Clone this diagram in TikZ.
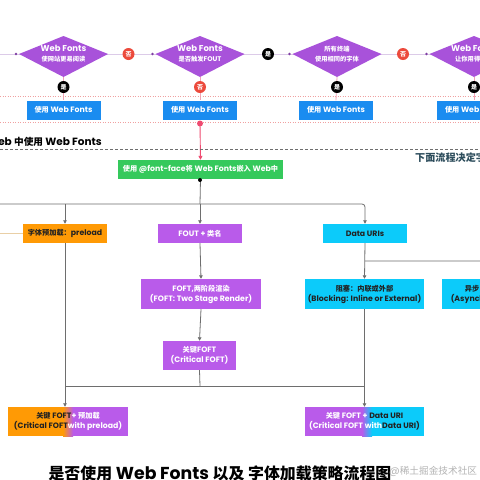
\documentclass[tikz,border=0pt]{standalone}
\usepackage{fontspec}
\setmainfont{Poppins}
\newfontfamily\latf{Poppins}
\newfontfamily\cjkf{Noto Sans CJK SC}[Scale=0.92]
\newXeTeXintercharclass\mycjkclass
\makeatletter
\def\setcjkrange#1#2{\count@=#1\relax
  \loop\XeTeXcharclass\count@=\mycjkclass\ifnum\count@<#2\relax\advance\count@\@ne\repeat}
\makeatother
\setcjkrange{"3000}{"303F}
\setcjkrange{"4E00}{"9FFF}
\setcjkrange{"FF00}{"FFEF}
\XeTeXinterchartoks 0 \mycjkclass = {\cjkf}
\XeTeXinterchartoks 4095 \mycjkclass = {\cjkf}
\XeTeXinterchartoks \mycjkclass 0 = {\latf}
\XeTeXinterchartoks \mycjkclass 4095 = {\latf}
\XeTeXinterchartokenstate=1
\usetikzlibrary{arrows.meta,backgrounds,calc}
\definecolor{dpurple}{HTML}{A852DA}
\definecolor{bpurple}{HTML}{B95BEA}
\definecolor{wblue}{HTML}{1A8CF0}
\definecolor{wgreen}{HTML}{35C95C}
\definecolor{worange}{HTML}{FF9A05}
\definecolor{wcyan}{HTML}{0CCBFA}
\definecolor{wred}{HTML}{EC4A3C}
\definecolor{wpink}{HTML}{EF4A70}
\definecolor{lpink}{HTML}{F2A3B8}
\definecolor{lav}{HTML}{DCCBE8}
\definecolor{dotred}{HTML}{F0A0A0}
\definecolor{conn}{HTML}{6E6E6E}
\definecolor{headteal}{HTML}{2D4D5C}
\definecolor{ltan}{HTML}{E9CFA6}
\definecolor{darktext}{HTML}{222222}
\definecolor{wmark}{HTML}{B4B4B4}
\newcommand\smallcjk[1]{{\fontsize{6.8}{9}\selectfont #1}}
\begin{document}
\begin{tikzpicture}[x=1pt,y=-1pt,
  txt/.style={inner sep=0pt, align=center, font=\bfseries\fontsize{7.8}{10}\selectfont},
  box/.style={txt, minimum height=19pt},
  bluebox/.style={box, fill=wblue, text=white, minimum width=74pt},
  purplebox/.style={box, fill=bpurple, text=white},
  orangebox/.style={box, fill=worange, text=darktext},
  cyanbox/.style={box, fill=wcyan, text=darktext},
  yesmark/.style={circle, fill=black, text=white, minimum size=12pt, inner sep=0pt, font=\bfseries\fontsize{6.5}{6.5}\selectfont},
  nomark/.style={yesmark, fill=wred},
  dtext/.style={txt, text=white, font=\bfseries\fontsize{8.5}{10}\selectfont},
  conline/.style={draw=conn, line width=0.8pt},
  arr/.style={conline, -{Triangle[length=3.5pt,width=3.5pt]}},
  dotline/.style={draw=dotred, line width=0.6pt, dash pattern=on 1pt off 1.5pt}
]
\useasboundingbox (0,0) rectangle (480,480);
\begin{pgfonlayer}{background}
  \fill[white] (0,0) rectangle (480,480);
\end{pgfonlayer}
\clip (0,0) rectangle (480,480);

% diamonds
\foreach \i/\cx in {1/63.5,2/200,3/337,4/474}{
  \coordinate (d\i t) at (\cx,36);
  \coordinate (d\i l) at (\cx-44.5,54);
  \coordinate (d\i r) at (\cx+44.5,54);
  \coordinate (d\i b) at (\cx,77);
  \fill[dpurple] (d\i t) -- (d\i r) -- (d\i b) -- (d\i l) -- cycle;
  \fill[dpurple!75!black] ($(d\i l)+(-3,0)$) circle (1.4pt);
}
\node[dtext] (d1) at (63.5,54) {Web Fonts\\\smallcjk{使网站更易阅读}};
\node[dtext] (d2) at (200,54) {Web Fonts\\\smallcjk{是否触发FOUT}};
\node[dtext] (d3) at (337,54) {\smallcjk{所有终端}\\\smallcjk{使用相同的字体}};
\node[dtext] (d4) at (474,54) {Web Fonts\\\smallcjk{让你用得开心}};

% yes / no marks
\node[nomark] (n1) at (128.5,54) {否};
\node[yesmark] (n2) at (268,54) {是};
\node[nomark] (n3) at (403,54) {否};
\node[yesmark] (v1) at (63.5,87) {是};
\node[nomark] (v2) at (200,87) {否};
\node[yesmark] (v3) at (337,87) {是};
\node[yesmark] (v4) at (474,87) {是};

% blue boxes
\node[bluebox] (b1) at (63.5,110) {使用 Web Fonts};
\node[bluebox] (b2) at (200,110) {使用 Web Fonts};
\node[bluebox] (b3) at (336,110) {使用 Web Fonts};
\node[bluebox] (b4) at (474,110) {使用 Web Fonts};

% dotted separators
\coordinate (s1l) at (0,96); \coordinate (s1r) at (480,96);
\coordinate (s2l) at (0,122); \coordinate (s2r) at (480,122);
\draw[dotline] (s1l) -- (s1r);
\draw[dotline] (s2l) -- (s2r);

% red dot + green box
\coordinate (rdot) at (200,123.5);
\fill[wpink] (rdot) circle (3pt);
\node[box, fill=wgreen, text=white, minimum width=165pt] (green) at (200.5,169.5) {使用 @font-face将 Web Fonts嵌入 Web中};
\draw[wpink, line width=0.9pt, -{Triangle[length=4pt,width=4pt]}] (rdot) -- (green.north);

% heading
\coordinate (hl) at (0,149); \coordinate (hr) at (480,149);
\draw[conn, line width=0.7pt, dash pattern=on 3pt off 2pt] (hl) -- (hr);
\node[anchor=base east, inner sep=0pt, font=\bfseries\fontsize{10.5}{12}\selectfont] (head) at (102,145) {在 Web 中使用 Web Fonts};
\node[anchor=base west, inner sep=0pt, text=headteal, font=\bfseries\fontsize{11}{12}\selectfont] (head2) at (415,161) {下面流程决定字体加载};

% second level
\node[orangebox, minimum width=84pt] (pre) at (65,233.5) {字体预加载：preload};
\node[purplebox, minimum width=84pt] (fout) at (200,233.5) {FOUT + 类名};
\node[cyanbox, minimum width=84pt] (duri) at (365,233.5) {Data URIs};

\node[purplebox, minimum width=120pt, minimum height=30pt] (foft) at (201,294) {FOFT,两阶段渲染\\(FOFT: Two Stage Render)};
\node[cyanbox, minimum width=119pt, minimum height=30pt] (block) at (364.5,294) {阻塞：内联或外部\\(Blocking: Inline or External)};
\node[cyanbox, minimum width=119pt, minimum height=30pt] (async) at (501.5,294) {异步 Data URI 样式表\\(Asynchronous Data URI)};

\node[purplebox, minimum width=73pt, minimum height=29pt] (cfoft) at (199.5,355.5) {关键FOFT\\(Critical FOFT)};

% combo boxes
\fill[worange] (8,407) rectangle (63,436);
\shade[left color=worange, right color=bpurple] (63,407) rectangle (73,436);
\fill[bpurple] (73,407) rectangle (128,436);
\node[txt, minimum width=120pt, minimum height=29pt] (c1) at (68,421.5)
  {\textcolor{darktext}{关键 FOFT}\textcolor{white}{ + 预加载}\\\textcolor{darktext}{(Critical FOFT}\textcolor{white}{ with preload)}};
\fill[bpurple] (305,407) rectangle (362,436);
\shade[left color=bpurple, right color=wcyan] (362,407) rectangle (372,436);
\fill[wcyan] (372,407) rectangle (424,436);
\node[txt, minimum width=119pt, minimum height=29pt] (c2) at (364.5,421.5)
  {\textcolor{white}{关键 FOFT + }\textcolor{darktext}{Data URI}\\\textcolor{white}{(Critical FOFT with}\textcolor{darktext}{Data URI)}};

% title and watermark
\node[inner sep=0pt, font=\bfseries\fontsize{17.3}{20}\selectfont] (title) at (220,473) {是否使用 Web Fonts 以及 字体加载策略流程图};
\node[anchor=west, inner sep=0pt, text=wmark, font=\fontsize{10.5}{12}\selectfont] (wm) at (389,471) {@稀土掘金技术社区};

% connectors
\coordinate (lineL) at (0,54); \coordinate (lineR) at (480,54);
\coordinate (j0) at (0,204);
\coordinate (jc) at (200,180);
\coordinate (jd) at (365,261);
\coordinate (jm) at (200,386);
\coordinate (tanL) at (0,233.5);
\begin{pgfonlayer}{background}
  \draw[lav, line width=1pt] (lineL) -- (lineR);
  \foreach \i in {1,2,3,4}{ \draw[lpink, line width=0.8pt] (d\i b) -- (b\i.north); }
  \draw[ltan, line width=0.8pt] (tanL) -- (pre.west);
  \draw[conline] (green.south) -- (jc |- j0);
  \draw[arr, rounded corners=3pt] (j0) -- (duri.north |- j0) -- (duri.north);
  \draw[arr] (pre.north |- j0) -- (pre.north);
  \draw[arr] (fout.north |- j0) -- (fout.north);
  \draw[arr] (fout.south) -- (foft.north);
  \draw[arr] (foft.south) -- (cfoft.north);
  \draw[arr] (duri.south) -- (block.north);
  \draw[arr, rounded corners=3pt] (jd) -| (async.north);
  \draw[conline] (cfoft.south) -- (jm);
  \draw[conline] (pre.south |- jm) -- (block.south |- jm);
  \draw[arr] (pre.south) -- (c1.north -| pre.south);
  \draw[arr] (block.south) -- (c2.north -| block.south);
\end{pgfonlayer}
\fill[black] (jc) circle (2pt);
\end{tikzpicture}
\end{document}
